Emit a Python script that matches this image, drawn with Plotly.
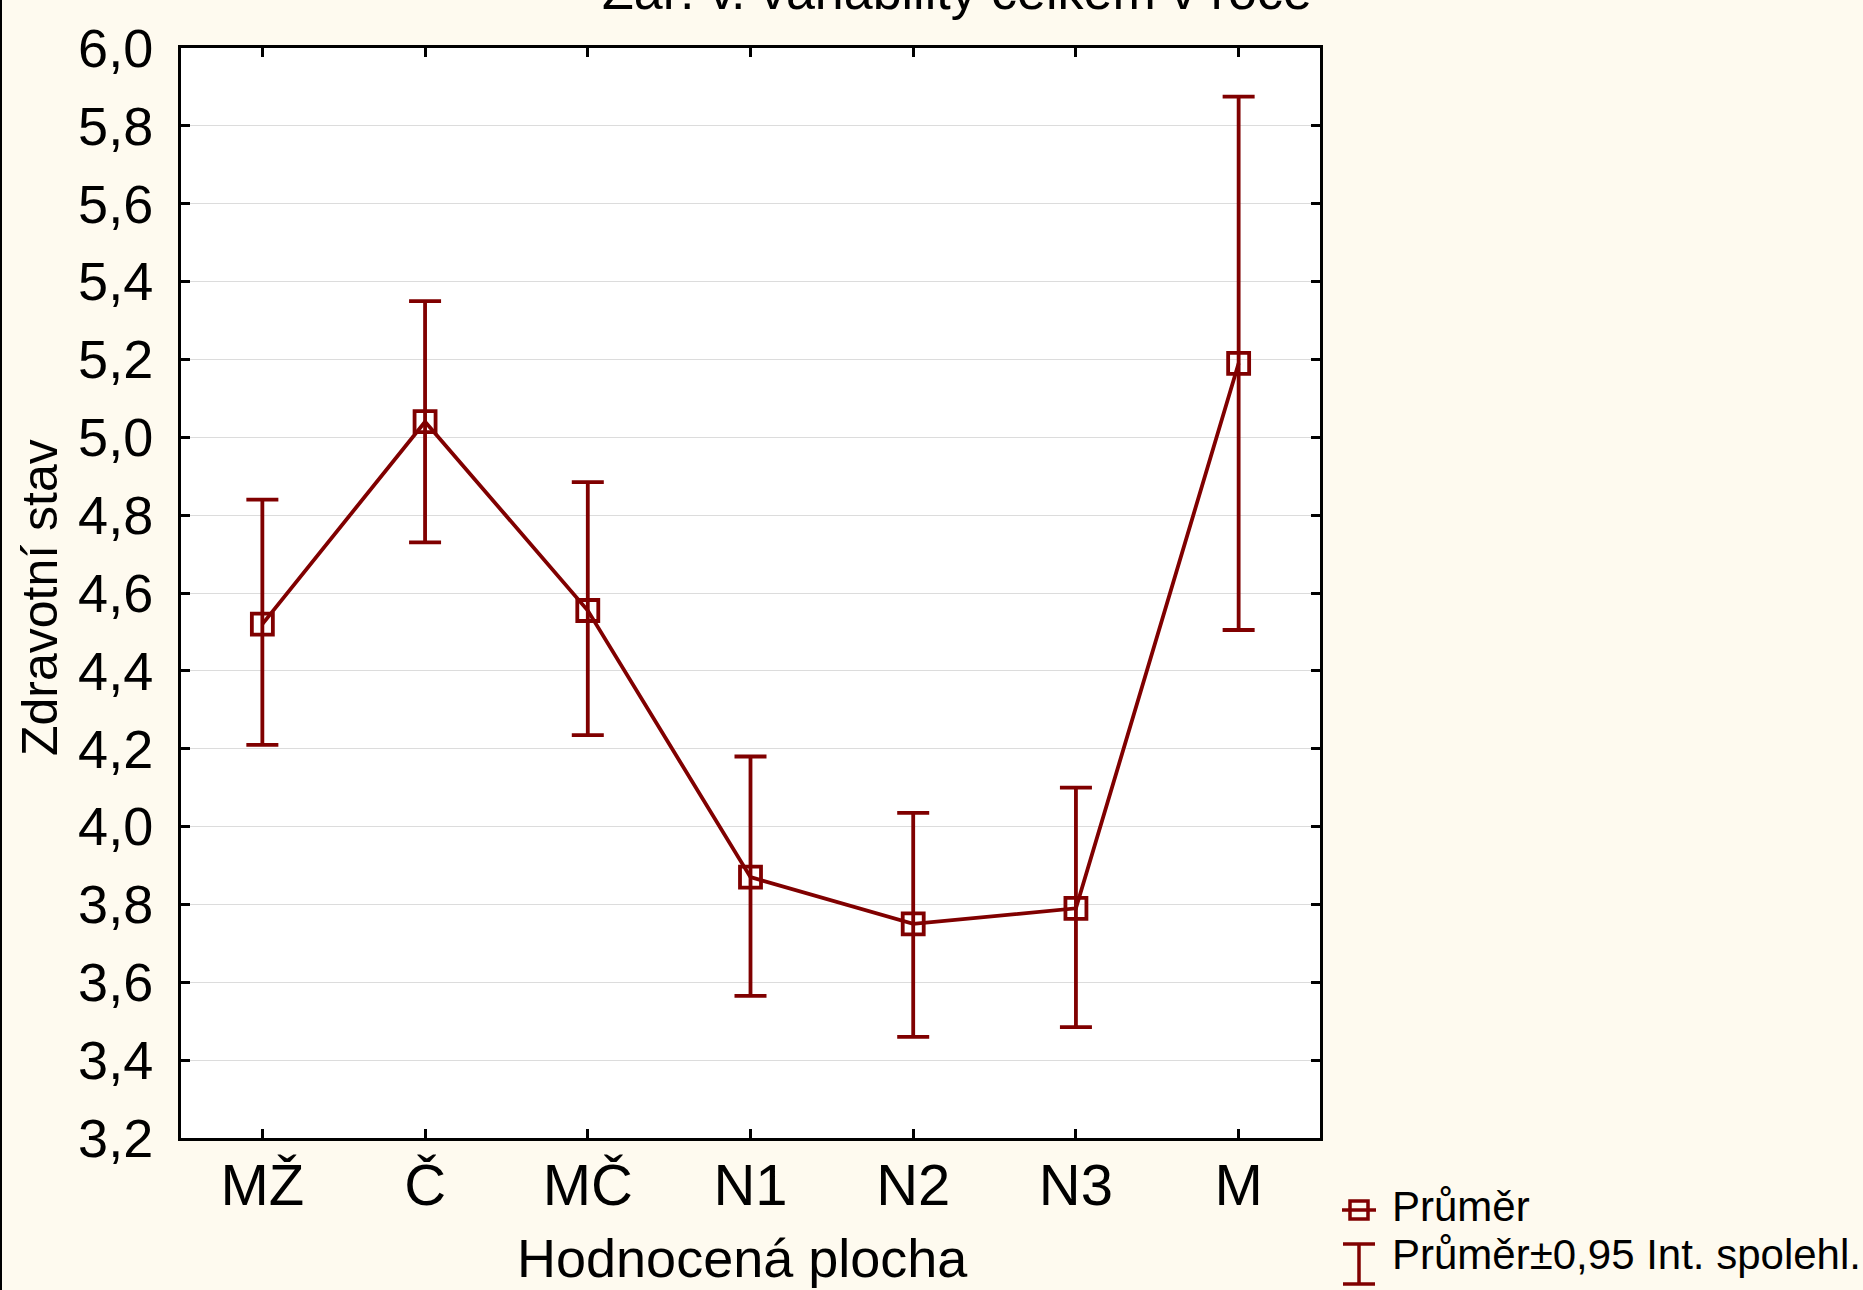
import plotly.graph_objects as go

# ---- data ----
categories = ["MŽ", "Č", "MČ", "N1", "N2", "N3", "M"]
means = [4.52, 5.04, 4.555, 3.87, 3.75, 3.79, 5.19]
upper = [4.84, 5.35, 4.885, 4.18, 4.035, 4.10, 5.875]
lower = [4.21, 4.73, 4.235, 3.565, 3.46, 3.485, 4.505]
y_ticks = [3.2 + 0.2 * i for i in range(15)]

title_text = "Zař. v. variability celkem v roce"
x_title = "Hodnocená plocha"
y_title = "Zdravotní stav"
legend_labels = ["Průměr", "Průměr±0,95 Int. spolehl."]

# ---- layout geometry ----
W, H = 1863, 1290
L, R, T, B = 181, 1320, 48, 1138
PW, PH = R - L, B - T

def px(x):
    return (x - L) / PW

def py(y):
    return (B - y) / PH

RED = "#800000"
FONT = "Liberation Sans, Arial, sans-serif"

err_plus = [u - m for u, m in zip(upper, means)]
err_minus = [m - l for m, l in zip(means, lower)]

fig = go.Figure()
fig.add_trace(go.Scatter(
    x=list(range(len(categories))), y=means,
    mode="lines+markers",
    line=dict(color=RED, width=3.8),
    marker=dict(symbol="square-open", size=21, color=RED, line=dict(width=3.8, color=RED)),
    error_y=dict(type="data", symmetric=False, array=err_plus, arrayminus=err_minus,
                 color=RED, thickness=3.8, width=16),
    showlegend=False,
))

axis_common = dict(showline=True, linecolor="black", linewidth=3, mirror="ticks",
                   ticks="inside", ticklen=9, tickwidth=3, tickcolor="black")

fig.update_xaxes(range=[-0.5, 6.5], tickmode="array",
                 tickvals=list(range(len(categories))), ticktext=categories,
                 tickfont=dict(family=FONT, size=58, color="black"),
                 showgrid=False, zeroline=False, ticklabelstandoff=-6, **axis_common)
fig.update_yaxes(range=[3.2, 6.0], tickmode="array", tickvals=y_ticks,
                 tickformat=".1f", showgrid=True, gridcolor="#DCDCDC", gridwidth=1,
                 tickfont=dict(family=FONT, size=54, color="black"),
                 zeroline=False, ticklabelstandoff=14, **axis_common)

annotations = [
    dict(text=title_text, x=px(957), y=py(22), xref="paper", yref="paper",
         xanchor="center", yanchor="bottom", showarrow=False,
         font=dict(family=FONT, size=52, color="black")),
    dict(text=x_title, x=px(742), y=py(1226), xref="paper", yref="paper",
         xanchor="center", yanchor="top", showarrow=False,
         font=dict(family=FONT, size=54, color="black")),
    dict(text=y_title, x=px(10), y=py(598), xref="paper", yref="paper",
         xanchor="left", yanchor="middle", textangle=-90, showarrow=False,
         font=dict(family=FONT, size=50, color="black")),
    dict(text=legend_labels[0], x=px(1390), y=py(1232), xref="paper", yref="paper",
         xanchor="left", yanchor="bottom", showarrow=False,
         font=dict(family=FONT, size=42, color="black")),
    dict(text=legend_labels[1], x=px(1390), y=py(1280), xref="paper", yref="paper",
         xanchor="left", yanchor="bottom", showarrow=False,
         font=dict(family=FONT, size=42, color="black")),
]

shapes = [
    # left page border
    dict(type="line", xref="paper", yref="paper", x0=px(1), x1=px(1), y0=py(H), y1=py(0),
         line=dict(color="black", width=2)),
    # legend symbol 1: line + square
    dict(type="line", xref="paper", yref="paper", x0=px(1342), x1=px(1376), y0=py(1210), y1=py(1210),
         line=dict(color=RED, width=3.5)),
    dict(type="rect", xref="paper", yref="paper", x0=px(1350), x1=px(1368), y0=py(1201), y1=py(1219),
         line=dict(color=RED, width=3.5), fillcolor="rgba(0,0,0,0)"),
    # legend symbol 2: I-beam
    dict(type="line", xref="paper", yref="paper", x0=px(1359), x1=px(1359), y0=py(1244), y1=py(1284),
         line=dict(color=RED, width=3.5)),
    dict(type="line", xref="paper", yref="paper", x0=px(1343), x1=px(1375), y0=py(1244), y1=py(1244),
         line=dict(color=RED, width=3.5)),
    dict(type="line", xref="paper", yref="paper", x0=px(1343), x1=px(1375), y0=py(1284), y1=py(1284),
         line=dict(color=RED, width=3.5)),
]

fig.update_layout(
    width=W, height=H,
    margin=dict(l=L, r=W - R, t=T, b=H - B, autoexpand=False),
    paper_bgcolor="#FEFAEF", plot_bgcolor="white",
    separators=",.",
    font=dict(family=FONT, color="black"),
    annotations=annotations, shapes=shapes,
    showlegend=False,
)

fig.write_html("out.html", config={"displayModeBar": False},
               post_script="document.body.style.margin='0';document.body.style.overflow='hidden';")
